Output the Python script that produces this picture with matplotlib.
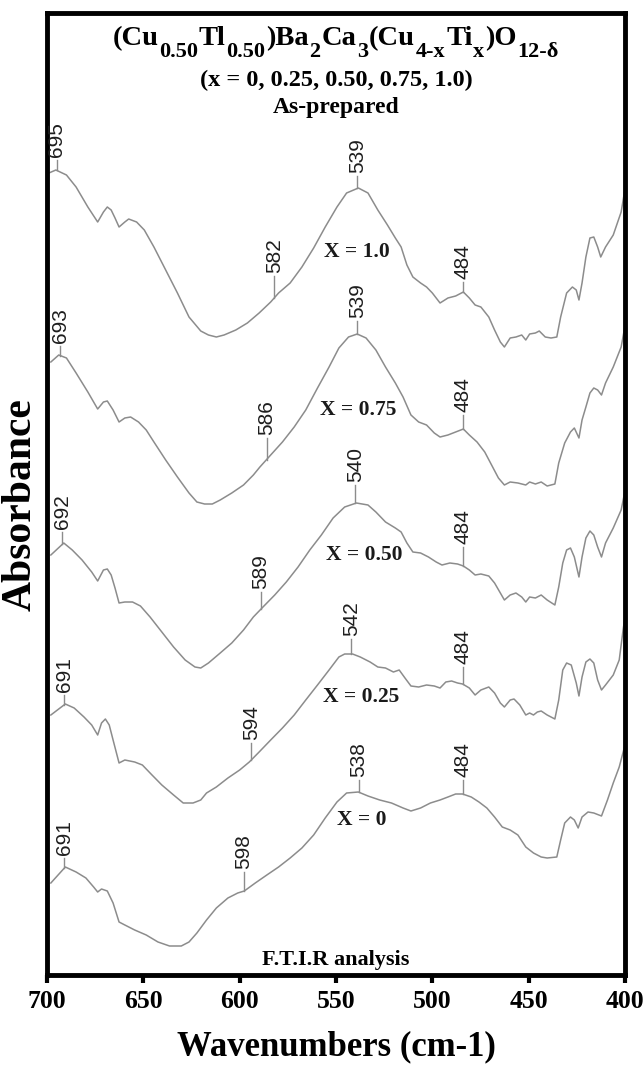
import numpy as np
import matplotlib
matplotlib.use("Agg")
import matplotlib.pyplot as plt

plt.rcParams["font.family"] = ["Liberation Serif", "DejaVu Serif"]

# ---- spectra (wavenumber in cm-1, stacked absorbance in arbitrary units) ----
wn_x100 = [699.0, 695.4, 689.9, 684.9, 678.8, 673.7, 670.7, 668.7, 666.7, 664.7, 662.6, 659.6,
           657.6, 653.5, 649.5, 644.5, 638.4, 632.3, 626.3, 620.2, 616.2, 612.1, 608.1, 602.0,
           596.0, 589.9, 583.9, 579.8, 573.8, 567.7, 561.6, 555.6, 549.5, 544.5, 538.4, 533.4,
           528.3, 523.3, 519.2, 516.2, 513.2, 510.1, 506.1, 503.0, 500.0, 496.0, 491.9, 487.9,
           483.9, 480.8, 477.8, 474.8, 470.7, 467.7, 464.7, 462.6, 459.6, 456.6, 453.6, 451.5,
           449.5, 446.5, 444.5, 441.4, 438.4, 435.4, 433.4, 430.3, 427.3, 425.3, 423.9, 422.3,
           420.3, 418.2, 416.2, 414.2, 412.6, 410.1, 406.1, 402.0, 400.0]
ab_x100 = [80.2, 80.5, 80.0, 78.8, 76.8, 75.3, 76.3, 76.8, 76.5, 75.7, 74.8, 75.3,
           75.6, 75.3, 74.5, 72.8, 70.5, 68.2, 65.8, 64.4, 64.0, 63.8, 64.0, 64.5,
           65.2, 66.2, 67.3, 68.2, 69.2, 70.8, 72.7, 74.8, 76.8, 78.2, 78.7, 78.2,
           76.5, 75.0, 73.7, 72.8, 71.0, 69.8, 69.2, 68.8, 68.2, 67.2, 67.7, 67.9,
           68.3, 67.7, 67.0, 66.8, 65.8, 64.5, 63.3, 62.8, 63.7, 63.8, 64.0, 63.5,
           64.1, 64.2, 64.4, 63.8, 63.7, 63.8, 65.8, 68.2, 68.8, 68.5, 67.5, 69.2,
           71.8, 73.7, 73.8, 72.8, 71.8, 72.8, 74.0, 76.3, 78.6]

wn_x075 = [698.0, 693.9, 689.9, 684.9, 678.8, 673.7, 670.7, 668.7, 665.7, 662.6, 659.6, 656.6,
           652.5, 648.5, 644.5, 638.4, 632.3, 626.3, 622.2, 618.2, 614.2, 610.1, 604.1, 598.0,
           592.9, 589.5, 583.9, 577.8, 571.7, 565.7, 559.6, 553.6, 548.5, 543.5, 539.0, 534.4,
           529.3, 524.3, 519.2, 515.2, 511.1, 507.1, 503.0, 499.0, 496.0, 491.9, 487.9, 483.9,
           480.8, 476.8, 472.8, 468.7, 465.7, 462.6, 459.6, 455.6, 451.5, 449.5, 446.5, 443.5,
           440.4, 436.4, 434.4, 431.3, 428.3, 426.3, 423.9, 422.3, 420.3, 418.2, 416.2, 414.2,
           412.2, 410.1, 406.1, 402.0, 400.0]
ab_x075 = [61.3, 62.0, 61.7, 60.2, 58.3, 56.6, 57.3, 57.4, 56.5, 55.3, 55.7, 55.8,
           55.3, 54.5, 53.3, 51.5, 49.8, 48.2, 47.3, 47.1, 47.1, 47.5, 48.2, 49.0,
           50.0, 50.8, 52.0, 53.3, 54.8, 56.5, 58.7, 60.8, 62.7, 63.8, 64.1, 63.7,
           62.5, 60.8, 59.2, 57.8, 56.0, 55.3, 55.0, 54.2, 53.8, 54.0, 54.3, 54.6,
           54.0, 53.3, 52.3, 50.8, 49.7, 49.0, 49.3, 49.2, 49.0, 49.3, 49.1, 49.3,
           48.9, 49.1, 51.2, 53.2, 54.3, 54.7, 53.7, 55.5, 56.8, 58.2, 58.7, 58.5,
           58.0, 59.2, 60.8, 62.8, 64.9]

wn_x050 = [698.0, 691.3, 686.9, 681.8, 676.8, 673.7, 670.7, 668.7, 666.7, 664.7, 662.6, 659.6,
           655.6, 651.5, 646.5, 640.4, 634.3, 628.3, 623.2, 620.2, 616.2, 610.1, 604.1, 598.0,
           592.9, 587.9, 581.8, 575.8, 569.7, 563.6, 557.6, 551.5, 545.5, 539.4, 533.4, 529.3,
           524.3, 519.2, 516.2, 513.2, 510.1, 506.1, 502.0, 498.0, 495.0, 490.9, 486.9, 483.9,
           480.8, 477.8, 474.8, 470.7, 467.7, 464.7, 462.6, 459.6, 456.6, 453.6, 451.5, 449.5,
           446.5, 443.5, 440.4, 436.4, 434.4, 432.3, 430.3, 428.3, 426.3, 423.9, 422.3, 420.3,
           418.2, 416.2, 414.2, 412.2, 410.1, 406.1, 402.0, 400.0]
ab_x050 = [42.0, 43.2, 42.5, 41.5, 40.3, 39.4, 40.5, 40.6, 40.0, 38.7, 37.2, 37.3,
           37.3, 36.9, 35.8, 34.3, 32.8, 31.5, 30.8, 30.7, 31.2, 32.2, 33.2, 34.5,
           35.8, 36.8, 38.0, 39.3, 40.8, 42.5, 44.0, 45.7, 46.8, 47.2, 47.0, 46.3,
           45.3, 44.7, 44.3, 43.2, 42.3, 42.2, 41.8, 41.3, 41.0, 41.2, 41.1, 40.9,
           40.5, 40.0, 40.1, 39.9, 39.2, 38.2, 37.5, 38.0, 38.2, 37.8, 37.3, 37.8,
           37.7, 38.0, 37.5, 37.0, 38.8, 41.2, 42.5, 42.7, 41.8, 39.8, 41.8, 43.7,
           44.4, 44.0, 42.8, 41.8, 43.2, 44.7, 46.5, 48.4]

wn_x025 = [698.0, 690.5, 685.9, 680.8, 676.8, 673.7, 671.7, 669.7, 667.7, 665.7, 662.6, 659.6,
           654.5, 650.5, 645.5, 640.4, 634.3, 629.3, 624.2, 620.2, 617.2, 612.1, 606.1, 600.0,
           595.0, 589.9, 583.9, 577.8, 571.7, 565.7, 559.6, 553.6, 548.5, 545.5, 541.4, 537.4,
           532.3, 528.3, 524.3, 520.2, 517.2, 514.2, 511.1, 507.1, 503.0, 499.0, 496.0, 493.0,
           490.0, 486.9, 484.3, 480.8, 477.8, 474.8, 470.7, 467.7, 464.7, 462.6, 459.6, 457.6,
           454.6, 451.5, 449.5, 447.5, 445.5, 443.5, 440.4, 436.4, 434.4, 432.3, 430.3, 427.9,
           425.3, 423.9, 422.3, 420.3, 418.2, 416.2, 414.2, 412.2, 410.1, 406.1, 403.0, 401.0,
           400.0]
ab_x025 = [26.0, 27.1, 26.7, 25.8, 25.0, 24.0, 25.2, 25.6, 25.0, 23.5, 21.2, 21.5,
           21.3, 21.0, 20.0, 19.0, 18.0, 17.2, 17.2, 17.5, 18.2, 18.8, 19.7, 20.5,
           21.3, 22.3, 23.5, 24.7, 26.0, 27.5, 29.0, 30.5, 31.8, 32.1, 32.1, 31.8,
           31.3, 30.8, 30.7, 30.3, 30.5, 29.7, 28.9, 28.8, 29.0, 28.9, 28.7, 29.3,
           29.4, 29.2, 29.1, 28.7, 28.0, 28.5, 28.8, 28.2, 27.2, 26.8, 27.5, 27.6,
           27.0, 26.0, 26.2, 26.0, 26.3, 26.4, 26.0, 25.6, 27.5, 30.5, 31.2, 31.0,
           29.2, 27.9, 29.8, 31.3, 31.6, 31.2, 29.5, 28.5, 29.0, 30.0, 31.5, 34.5,
           35.8]

wn_x000 = [698.0, 690.5, 684.9, 679.8, 675.8, 673.7, 671.7, 668.7, 665.7, 662.6, 659.6, 654.5,
           648.5, 642.4, 636.4, 630.3, 626.3, 622.2, 617.2, 612.1, 606.1, 601.0, 597.6, 591.9,
           585.9, 579.8, 573.8, 567.7, 561.6, 555.6, 549.5, 544.5, 538.4, 533.4, 527.3, 521.2,
           515.2, 511.1, 506.1, 501.0, 496.0, 491.9, 487.9, 484.3, 479.8, 475.8, 471.7, 467.7,
           463.7, 459.6, 455.6, 451.5, 447.5, 443.5, 440.4, 435.4, 433.4, 431.3, 428.3, 426.3,
           424.3, 422.3, 419.2, 416.2, 412.2, 409.1, 406.1, 403.0, 400.0]
ab_x000 = [9.2, 10.8, 10.3, 9.7, 8.8, 8.3, 8.6, 8.4, 7.2, 5.3, 5.0, 4.5,
           4.0, 3.3, 2.9, 2.9, 3.3, 4.2, 5.5, 6.7, 7.7, 8.2, 8.4, 9.2,
           10.0, 10.8, 11.7, 12.7, 14.0, 15.7, 17.3, 18.2, 18.3, 17.9, 17.5, 17.2,
           16.7, 16.4, 16.7, 17.2, 17.5, 17.8, 18.1, 18.1, 17.8, 17.3, 16.7, 15.8,
           14.8, 14.5, 14.0, 12.8, 12.2, 11.8, 11.7, 11.8, 13.5, 15.2, 15.8, 15.5,
           14.7, 15.8, 16.3, 16.2, 15.9, 17.5, 19.2, 20.8, 23.0]

# ---- annotations ----
sample_labels = ["X = 1.0", "X = 0.75", "X = 0.50", "X = 0.25", "X = 0"]
sample_label_wn = [539.4, 538.4, 535.4, 537.0, 536.4]
sample_label_ab = [72.3, 56.5, 42.0, 27.8, 15.5]

peaks_x100 = [695, 539, 582, 484]
peaks_x075 = [693, 539, 586, 484]
peaks_x050 = [692, 540, 589, 484]
peaks_x025 = [691, 542, 594, 484]
peaks_x000 = [691, 538, 598, 484]

# formula of the compound: (text, is_subscript)
formula_parts = [("(Cu", False), ("0.50", True), ("Tl", False), ("0.50", True),
                 (")Ba", False), ("2", True), ("Ca", False), ("3", True),
                 ("(Cu", False), ("4-x", True), ("Ti", False), ("x", True),
                 (")O", False), ("12-\u03b4", True)]

spectra = [
    (wn_x100, ab_x100, peaks_x100, [10, 12, 22, 10]),
    (wn_x075, ab_x075, peaks_x075, [10, 13, 22, 14]),
    (wn_x050, ab_x050, peaks_x050, [12, 18, 17, 19]),
    (wn_x025, ab_x025, peaks_x025, [10, 15, 17, 17]),
    (wn_x000, ab_x000, peaks_x000, [10, 12, 19, 14]),
]

W, H = 644, 1068
line_color = "#8c8c8c"
serif = ["Liberation Serif", "DejaVu Serif"]
sans = ["Liberation Sans", "DejaVu Sans"]

fig = plt.figure(figsize=(W / 100, H / 100), dpi=100)
ax_left, ax_right, ax_top, ax_bottom = 47, 625, 13, 975
ax = fig.add_axes([ax_left / W, 1 - ax_bottom / H, (ax_right - ax_left) / W,
                   (ax_bottom - ax_top) / H])

px = 0.1  # data units per pixel in the vertical direction

for (wn, ab, peaks, leaders), lab, lw_, la_ in zip(spectra, sample_labels,
                                                   sample_label_wn, sample_label_ab):
    wn = np.asarray(wn)
    ab = np.asarray(ab)
    ax.plot(wn, ab, color=line_color, lw=1.1, solid_joinstyle="round")
    for p, lead in zip(peaks, leaders):
        y0 = np.interp(p, wn[::-1], ab[::-1])
        ax.plot([p, p], [y0, y0 + lead * px], color=line_color, lw=1.0)
        ax.text(p, y0 + (lead + 3) * px, str(p), rotation=90, ha="center", va="bottom",
                fontsize=15, family=sans, color="#1e1e1e")
    ax.text(lw_, la_, lab, ha="center", va="center", fontsize=15.5, fontweight="bold",
            family=serif, color="#1a1a1a")

ax.set_xlim(700, 400)
ax.set_ylim(0, 96.2)
ax.set_xticks([700, 650, 600, 550, 500, 450, 400])
ax.set_yticks([])
for s in ax.spines.values():
    s.set_linewidth(3.5)
ax.tick_params(axis="x", direction="out", length=6, width=3, pad=5)
for t in ax.get_xticklabels():
    t.set_fontfamily(serif)
    t.set_fontweight("bold")
    t.set_fontsize(18.5)

ax.set_xlabel("Wavenumbers (cm-1)", fontsize=25, fontweight="bold", family=serif, va="center")
ax.xaxis.set_label_coords(0.5, (ax_bottom - 1047) / (ax_bottom - ax_top))
ax.set_ylabel("Absorbance", fontsize=30, fontweight="bold", family=serif, va="center")
ax.yaxis.set_label_coords(-26 / (ax_right - ax_left), (ax_bottom - 505) / (ax_bottom - ax_top))

# chemical formula laid out piece by piece so subscripts can be sized freely
renderer = fig.canvas.get_renderer()
main_size, sub_size, sub_drop = 20.5, 16, 12
pieces = []
for txt, sub in formula_parts:
    t = fig.text(0, 0, txt, fontsize=sub_size if sub else main_size, fontweight="bold",
                 family=serif, ha="left", va="baseline")
    pieces.append((t, t.get_window_extent(renderer).width + (1.0 if sub else 0.5), sub))
total = sum(w for _, w, _ in pieces)
x_cur = (ax_left + ax_right) / 2 - total / 2
base_y = 45
for t, w, sub in pieces:
    y = base_y + (sub_drop if sub else 0)
    t.set_position((x_cur / W, 1 - y / H))
    x_cur += w

ax.text(0.5, (ax_bottom - 80) / (ax_bottom - ax_top), "(x = 0, 0.25, 0.50, 0.75, 1.0)",
        transform=ax.transAxes, ha="center", va="center", fontsize=17.5, fontweight="bold",
        family=serif)
ax.text(0.5, (ax_bottom - 107) / (ax_bottom - ax_top), "As-prepared", transform=ax.transAxes,
        ha="center", va="center", fontsize=17, fontweight="bold", family=serif)
ax.text(0.5, (ax_bottom - 960) / (ax_bottom - ax_top), "F.T.I.R analysis",
        transform=ax.transAxes, ha="center", va="center", fontsize=16, fontweight="bold",
        family=serif)

fig.savefig("out.png", dpi=100)
